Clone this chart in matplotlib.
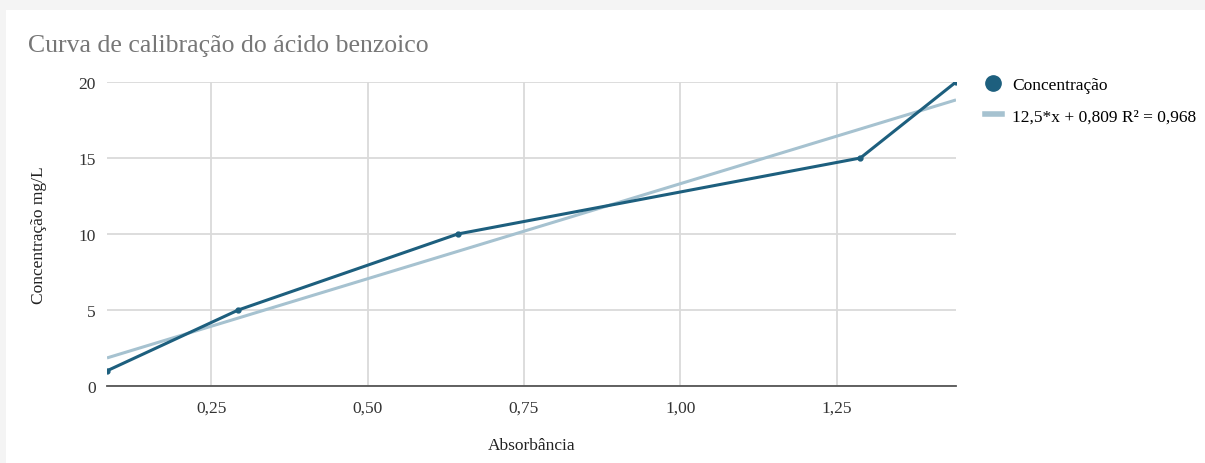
import matplotlib
matplotlib.use("Agg")
import matplotlib.pyplot as plt
from matplotlib.lines import Line2D
from matplotlib.patches import Rectangle
import numpy as np

# absorbance readings and matching standard concentrations (mg/L)
absorbancia = [0.083, 0.293, 0.644, 1.288, 1.441]
concentracao = [1, 5, 10, 15, 20]

# linear trend as stated in the legend
slope = 12.5
intercept = 0.809
trend_label = "12,5*x + 0,809 R² = 0,968"

x_ticks = [0.25, 0.50, 0.75, 1.00, 1.25]
x_tick_labels = ["0,25", "0,50", "0,75", "1,00", "1,25"]
y_ticks = [0, 5, 10, 15, 20]

DARK = "#1d5f7e"
LIGHT = "#a6c2d0"
GRID = "#dadada"

plt.rcParams["font.family"] = ["Liberation Serif", "DejaVu Serif"]

fig = plt.figure(figsize=(12.05, 4.64), dpi=100)
fig.patch.set_facecolor("#f4f4f4")
# white card behind the chart
card = Rectangle((6 / 1205, 0), 1, 1 - 11 / 464, transform=fig.transFigure,
                 facecolor="white", edgecolor="none", zorder=-5)
fig.add_artist(card)

ax = fig.add_axes([107 / 1205, 77 / 464, 849 / 1205, 304 / 464])
ax.set_facecolor("white")

xs = np.array([min(absorbancia), max(absorbancia)])
ax.plot(xs, slope * xs + intercept, color=LIGHT, linewidth=2.2, zorder=2,
        solid_capstyle="butt")
ax.plot(absorbancia, concentracao, color=DARK, linewidth=2.2, marker="o",
        markersize=3.5, zorder=3)

ax.set_xlim(min(absorbancia), max(absorbancia))
ax.set_ylim(0, 20)
ax.set_xticks(x_ticks)
ax.set_xticklabels(x_tick_labels)
ax.set_yticks(y_ticks)
ax.tick_params(length=0, labelsize=12.5, colors="#333333")
ax.tick_params(axis="x", pad=10)
ax.tick_params(axis="y", pad=8)
ax.grid(True, color=GRID, linewidth=1.3)
ax.set_axisbelow(True)
for side in ("top", "right", "left"):
    ax.spines[side].set_visible(False)
ax.spines["bottom"].set_color("#555555")
ax.spines["bottom"].set_linewidth(1.3)

ax.set_xlabel("Absorbância", fontsize=12.5, color="#222222", labelpad=15)
ax.set_ylabel("Concentração mg/L", fontsize=12.5, color="#222222", labelpad=23)

fig.text(28 / 1205, 1 - 46 / 464, "Curva de calibração do ácido benzoico",
         fontsize=18.5, color="#777777", va="center", ha="left")

handles = [
    Line2D([], [], color=DARK, marker="o", linestyle="none", markersize=11),
    Line2D([], [], color=LIGHT, linewidth=4),
]
fig.legend(handles, ["Concentração", trend_label], loc="upper left",
           bbox_to_anchor=(969 / 1205, 1 - 62 / 464), frameon=False,
           fontsize=12.5, handlelength=1.0, handletextpad=0.6, labelspacing=0.9)

fig.savefig("out.png", dpi=100, facecolor=fig.get_facecolor())
